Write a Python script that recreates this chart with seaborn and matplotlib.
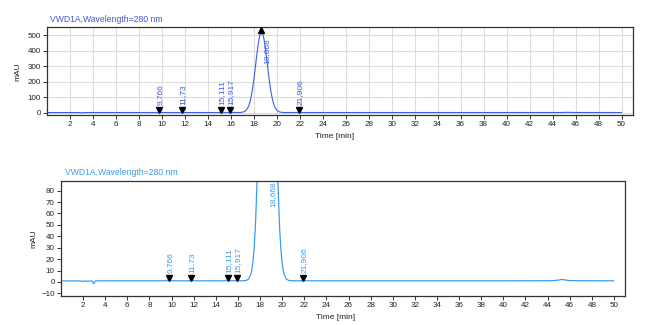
import matplotlib
matplotlib.use("Agg")
import matplotlib.pyplot as plt
import matplotlib.transforms as mtrans
import seaborn as sns
import numpy as np
import pandas as pd

# ---- data ----
time_min = [0.0, 1.8, 1.95, 2.1, 2.3, 2.8, 2.95, 3.1, 3.4, 4.0, 6.0, 8.0, 9.5, 9.8, 10.1,
            11.5, 11.8, 12.1, 14.8, 15.1, 15.4, 15.7, 15.9, 16.2,
            16.57, 16.77, 16.97, 17.17, 17.27, 17.37, 17.47, 17.57, 17.67, 17.77, 17.87,
            17.97, 18.07, 18.17, 18.27, 18.37, 18.47, 18.57, 18.67, 18.77, 18.87, 18.97,
            19.07, 19.17, 19.27, 19.37, 19.47, 19.57, 19.67, 19.77, 19.87, 19.97, 20.07,
            20.17, 20.37, 20.57, 20.77, 21.5, 21.9, 22.3, 30.0, 40.0, 44.5, 45.0, 45.3,
            45.6, 46.0, 46.5, 50.0]
signal_mau = [0.9, 0.9, 0.4, 0.9, 0.6, 0.9, -1.5, 0.8, 1.0, 1.0, 1.0, 1.0, 1.0, 1.6, 1.0,
              1.0, 1.4, 1.0, 1.0, 1.6, 1.0, 1.1, 1.3, 1.0,
              1.1, 1.4, 2.6, 6.8, 11.3, 19.0, 31.0, 47.0, 72.0, 104.0, 146.0,
              197.0, 254.0, 317.0, 379.0, 435.0, 481.0, 511.0, 521.0, 511.0, 481.0, 435.0,
              379.0, 317.0, 254.0, 197.0, 146.0, 104.0, 72.0, 47.0, 31.0, 19.0, 11.3,
              6.8, 2.6, 1.4, 1.1, 1.0, 1.2, 1.0, 1.0, 1.0, 1.1, 1.7, 2.2,
              1.7, 1.2, 1.1, 1.0]

peak_times = [9.766, 11.73, 15.111, 15.917, 18.668, 21.906]
peak_labels = ["9,766", "11,73", "15,111", "15,917", "18,668", "21,906"]
peak_base = [1.0, 1.0, 1.0, 1.0, 521.0, 1.0]
main_peak = 4

title_text = "VWD1A,Wavelength=280 nm"
x_ticks = list(range(2, 51, 2))
top_yticks = [0, 100, 200, 300, 400, 500]
bot_yticks = [-10, 0, 10, 20, 30, 40, 50, 60, 70, 80]

df = pd.DataFrame({"t": time_min, "s": signal_mau})

sns.set_theme(style="white")
plt.rcParams["font.family"] = ["Liberation Sans", "DejaVu Sans"]

W, H = 660, 325
fig = plt.figure(figsize=(W / 100, H / 100), dpi=100)

def px_axes(l, t, r, b):
    return fig.add_axes([l / W, 1 - b / H, (r - l) / W, (b - t) / H])

ax1 = px_axes(47, 27, 633, 115)
ax2 = px_axes(61, 181, 625, 296)

top_col = "#3d5fe3"
bot_col = "#3a9cf0"

def style_axes(ax, yticks, ylim, grid):
    ax.set_xlim(0, 51)
    ax.set_ylim(*ylim)
    ax.set_xticks(x_ticks)
    ax.set_yticks(yticks)
    ax.tick_params(axis="both", which="both", direction="out", length=3, width=0.7,
                   color="#333333", labelsize=5.8, labelcolor="#222222", pad=1.5,
                   bottom=True, left=True)
    for sp in ax.spines.values():
        sp.set_color("#333333")
        sp.set_linewidth(0.9)
    if grid:
        ax.grid(True, color="#dcdcdc", linewidth=0.8)
        ax.set_axisbelow(True)
    else:
        ax.grid(False)
    ax.set_xlabel("Time [min]", fontsize=6, color="#222222")
    ax.set_ylabel("mAU", fontsize=6, color="#222222")

sns.lineplot(data=df, x="t", y="s", ax=ax1, color=top_col, linewidth=0.8, sort=False)
sns.lineplot(data=df, x="t", y="s", ax=ax2, color=bot_col, linewidth=0.9, sort=False)

style_axes(ax1, top_yticks, (-15, 553), True)
style_axes(ax2, bot_yticks, (-12.3, 88.4), False)
ax1.xaxis.set_label_coords(0.49, -0.2)
ax2.xaxis.set_label_coords(0.487, -0.16)
ax1.yaxis.set_label_coords(-0.044, 0.49)
ax2.yaxis.set_label_coords(-0.041, 0.50)

def annotate(ax, col, top_label_y):
    up = mtrans.ScaledTranslation(0, 3.0 / 100, fig.dpi_scale_trans)
    txt_up = mtrans.ScaledTranslation(0.01, 7.5 / 100, fig.dpi_scale_trans)
    for i, (t, lab, b) in enumerate(zip(peak_times, peak_labels, peak_base)):
        if i == main_peak:
            if ax is ax1:
                ax.plot([t], [b], marker="^", ms=3.8, color="black", linestyle="none",
                        transform=ax.transData + mtrans.ScaledTranslation(0, 2.0 / 100, fig.dpi_scale_trans),
                        clip_on=False, zorder=5)
            ax.text(t + 0.5, top_label_y, lab, rotation=90, ha="center", va="top",
                    fontsize=6, color=col, clip_on=True)
        else:
            ax.plot([t], [b], marker="v", ms=3.8, color="black", linestyle="none",
                    transform=ax.transData + up, zorder=5)
            ax.text(t, b, lab, rotation=90, ha="center", va="bottom", fontsize=6,
                    color=col, transform=ax.transData + txt_up)

annotate(ax1, top_col, 478)
annotate(ax2, bot_col, 88.4)

fig.text(50 / W, 1 - 19 / H, title_text, fontsize=6.2, color="#3a5ad8", ha="left", va="center")
fig.text(65 / W, 1 - 172.5 / H, title_text, fontsize=6.2, color="#3a9cf0", ha="left", va="center")

fig.savefig("out.png", dpi=100)
